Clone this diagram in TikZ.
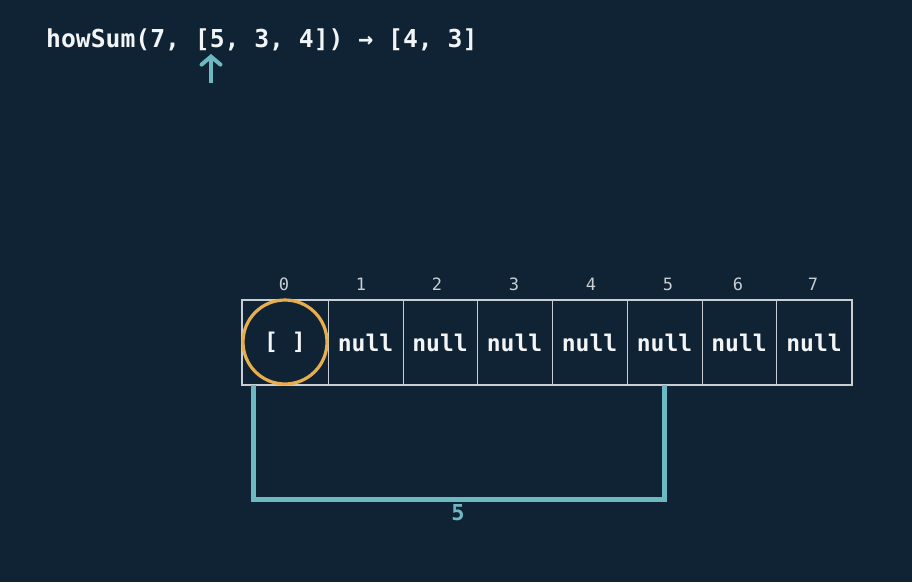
\documentclass[tikz,border=0pt]{standalone}
\usepackage{fontspec}
\setmonofont{DejaVu Sans Mono}
\usetikzlibrary{arrows.meta}
\definecolor{bg}{HTML}{0F2335}
\definecolor{gridc}{HTML}{C9CED3}
\definecolor{teal}{HTML}{6DB9C2}
\definecolor{orng}{HTML}{E8AE4E}
\definecolor{txt}{HTML}{F2F4F6}
\begin{document}
\begin{tikzpicture}[x=1pt,y=-1pt,
  cell/.style={draw=gridc, line width=0.9pt, minimum height=85pt, inner sep=0pt, outer sep=0pt,
    text=txt, font=\ttfamily\bfseries\fontsize{23}{25}\selectfont},
  idx/.style={text=gridc, font=\ttfamily\fontsize{17}{19}\selectfont, inner sep=0pt},
  bracket/.style={draw=teal, line width=5pt},
]
\fill[bg] (0,0) rectangle (912,582);
\useasboundingbox (0,0) rectangle (912,582);

% title
\node[anchor=base west, inner sep=0pt, text=txt, font=\ttfamily\bfseries\fontsize{24.7}{28}\selectfont]
  (title) at (46,47) {howSum(7, [5, 3, 4]) → [4, 3]};
\coordinate (arrS) at (211,83);
\coordinate (arrE) at (211,54);
\draw[draw=teal, line width=4pt, -{Straight Barb[length=8pt,width=19pt,line cap=round]}] (arrS) -- (arrE);

% cells
\node[cell, minimum width=86pt, anchor=north west] (c0) at (242,300) {\raisebox{-2pt}{[ ]}};
\node[cell, minimum width=75pt, anchor=north west] (c1) at (c0.north east) {\raisebox{-2pt}{null}};
\node[cell, minimum width=74pt, anchor=north west] (c2) at (c1.north east) {\raisebox{-2pt}{null}};
\node[cell, minimum width=75pt, anchor=north west] (c3) at (c2.north east) {\raisebox{-2pt}{null}};
\node[cell, minimum width=75pt, anchor=north west] (c4) at (c3.north east) {\raisebox{-2pt}{null}};
\node[cell, minimum width=75pt, anchor=north west] (c5) at (c4.north east) {\raisebox{-2pt}{null}};
\node[cell, minimum width=74pt, anchor=north west] (c6) at (c5.north east) {\raisebox{-2pt}{null}};
\node[cell, minimum width=76pt, anchor=north west] (c7) at (c6.north east) {\raisebox{-2pt}{null}};
\draw[gridc, line width=1.8pt] (c0.north west) rectangle (c7.south east);

% indices
\node[idx] (i0) at (284,284) {0};
\node[idx] (i1) at (361,284) {1};
\node[idx] (i2) at (437,284) {2};
\node[idx] (i3) at (514,284) {3};
\node[idx] (i4) at (591,284) {4};
\node[idx] (i5) at (668,284) {5};
\node[idx] (i6) at (738,284) {6};
\node[idx] (i7) at (813,284) {7};

% highlight circle
\node[draw=orng, line width=3.2pt, circle, minimum size=84pt, inner sep=0pt] (hl) at (285,342) {};

% bracket
\coordinate (bL) at ([xshift=11pt]c0.south west);
\coordinate (bR) at (c5.south);
\draw[bracket] (bL) -- ++(0,114) -| (bR);
\node[text=teal, font=\ttfamily\bfseries\fontsize{22}{24}\selectfont, inner sep=0pt] (blab) at (458,513) {5};
\end{tikzpicture}
\end{document}
